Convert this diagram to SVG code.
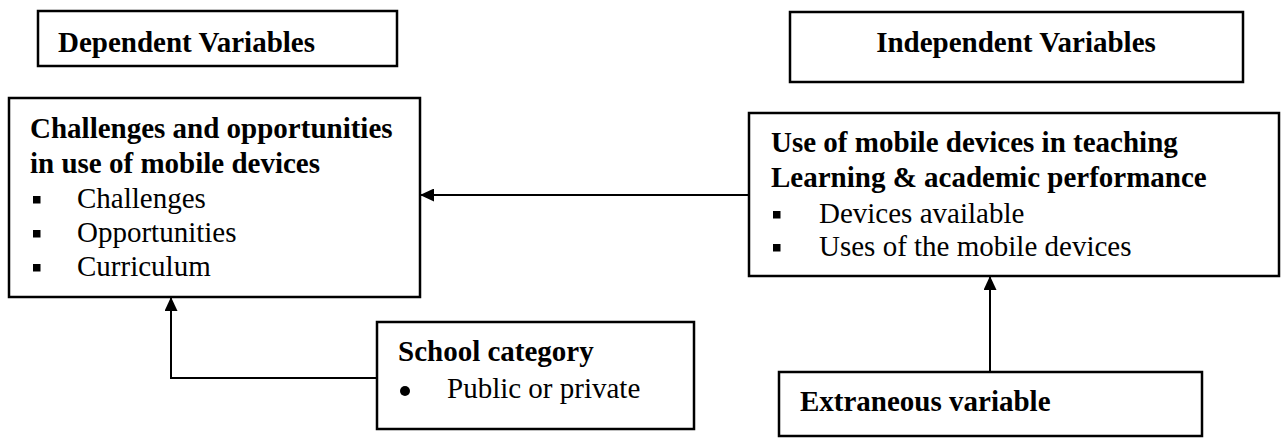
<svg xmlns="http://www.w3.org/2000/svg" width="1282" height="438" viewBox="0 0 1282 438">
<style>
.box{fill:#fff;stroke:#000;stroke-width:2.5}
.b{font-family:"Liberation Serif","Times New Roman",serif;font-weight:bold;font-size:29px;fill:#000}
.r{font-family:"Liberation Serif","Times New Roman",serif;font-size:29px;fill:#000}
.conn{fill:none;stroke:#000;stroke-width:2}
</style>
<defs>
<marker id="ah" markerWidth="14" markerHeight="13" refX="13" refY="6.5" orient="auto" markerUnits="userSpaceOnUse" viewBox="0 0 14 13">
<path d="M0,0 L14,6.5 L0,13 z" fill="#000"/>
</marker>
</defs>
<rect width="1282" height="438" fill="#fff"/>
<g id="dependent-label">
<rect class="box" x="38" y="11" width="359" height="55"/>
<text class="b" x="58" y="52">Dependent Variables</text>
</g>
<g id="independent-label">
<rect class="box" x="790" y="12" width="453" height="70"/>
<text class="b" x="1016" y="52" text-anchor="middle">Independent Variables</text>
</g>
<g id="challenges">
<rect class="box" x="9" y="98" width="411" height="199"/>
<text class="b" x="30" y="138">Challenges and opportunities</text>
<text class="b" x="30" y="173">in use of mobile devices</text>
<rect x="33" y="196" width="7.5" height="7.5"/>
<text class="r" x="77" y="208">Challenges</text>
<rect x="33" y="230" width="7.5" height="7.5"/>
<text class="r" x="77" y="242">Opportunities</text>
<rect x="33" y="264" width="7.5" height="7.5"/>
<text class="r" x="77" y="276">Curriculum</text>
</g>
<g id="use-of-mobile">
<rect class="box" x="749" y="113" width="530" height="163"/>
<text class="b" x="771" y="152">Use of mobile devices in teaching</text>
<text class="b" x="771" y="187">Learning &amp; academic performance</text>
<rect x="773" y="211" width="7.5" height="7.5"/>
<text class="r" x="819" y="223">Devices available</text>
<rect x="773" y="244" width="7.5" height="7.5"/>
<text class="r" x="819" y="256">Uses of the mobile devices</text>
</g>
<g id="school-category">
<rect class="box" x="377" y="322" width="317" height="107"/>
<text class="b" x="398" y="361">School category</text>
<circle cx="405" cy="391" r="5"/>
<text class="r" x="447" y="398">Public or private</text>
</g>
<g id="extraneous">
<rect class="box" x="779" y="372" width="423" height="64"/>
<text class="b" x="800" y="411">Extraneous variable</text>
</g>
<g id="connectors">
<line class="conn" x1="749" y1="195" x2="421" y2="195" stroke-width="1.8" marker-end="url(#ah)"/>
<polyline class="conn" points="377,378 171,378 171,298" stroke-width="1.5" marker-end="url(#ah)"/>
<line class="conn" x1="990" y1="372" x2="990" y2="277" stroke-width="2.2" marker-end="url(#ah)"/>
</g>
</svg>
